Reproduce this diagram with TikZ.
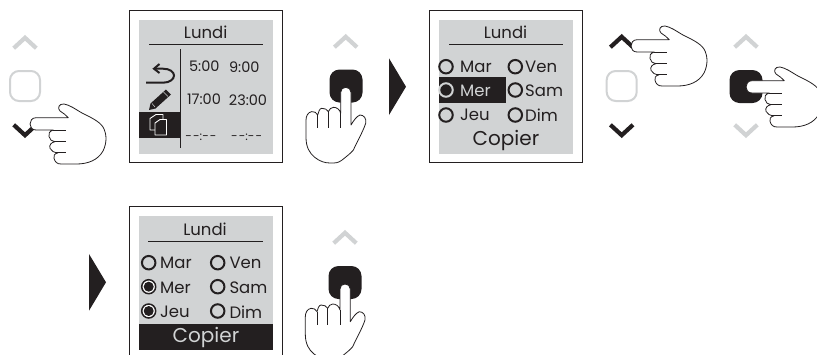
\documentclass[tikz,border=0pt]{standalone}
\usepackage{fontspec}
\setmainfont{Poppins}
\definecolor{ink}{HTML}{231F20}
\definecolor{pale}{HTML}{D1D3D4}
\tikzset{
  x=1pt,y=-1pt,
  framebox/.style={draw=ink,line width=1pt,fill=white},
  panel/.style={fill=pale},
  rulel/.style={draw=ink,line width=1pt},
  chev/.style={line width=4.2pt,miter limit=10},
  btn/.style={line width=2pt,rounded corners=9pt},
  handline/.style={draw=ink,line width=.8pt,fill=white,line join=round},
  txt/.style={inner sep=0pt,text=ink,font=\fontsize{16.5}{17}\selectfont},
  day/.style={inner sep=0pt,text=ink,anchor=west,font=\fontsize{16.5}{17}\selectfont},
  time/.style={inner sep=0pt,text=ink,font=\fontsize{14.5}{15}\selectfont},
  dashes/.style={inner sep=0pt,text=ink,font=\fontsize{12}{13}\selectfont},
  big/.style={inner sep=0pt,text=ink,font=\fontsize{20}{21}\selectfont},
  radio/.style={draw=ink,line width=2pt,circle,minimum size=13.5pt,inner sep=0pt},
  radiosel/.style={draw=ink,line width=1.5pt,circle,minimum size=14pt,inner sep=0pt,fill=white,path picture={\fill[ink] (path picture bounding box.center) circle[radius=5pt];}},
  pics/chevup/.style={code={\draw[chev,#1] (-11.3,5.2) -- (0,-5.2) -- (11.3,5.2);}},
  pics/chevdown/.style={code={\draw[chev,#1] (-11.3,-5.2) -- (0,5.2) -- (11.3,-5.2);}},
  pics/handleft/.style={code={
    \path[handline] (38.3,-6.3) -- (6,-6.3) .. controls (2,-6.3) and (0,-3) .. (0,0) .. controls (0,3) and (2,6) .. (6,6) -- (23.3,6) .. controls (19.5,7) and (18,10) .. (19,12.5) .. controls (19.5,15.5) and (22,17.7) .. (25,17.7) .. controls (21,18.5) and (19,21) .. (20,24.3) .. controls (21,27) and (24,28.7) .. (28.3,28.7) .. controls (24.5,29.5) and (23,32) .. (24,34.3) .. controls (25,38) and (27,40) .. (31,40) -- (46.7,40) .. controls (58,40) and (68,36) .. (73,27) .. controls (77,19) and (77,10) .. (73,3) .. controls (69,-3) and (60,-7) .. (52,-11) .. controls (45,-15) and (40,-19) .. (34,-20) .. controls (29,-20.5) and (27,-16) .. (30,-13) .. controls (33,-11) and (36,-9) .. (38.3,-6.3) -- cycle;
    \draw[handline,fill=none] (23.3,6) -- (35.5,6) (25,17.7) -- (35.5,17.7) (28.3,28.7) -- (35.5,28.7);
  }},
  pics/handup/.style={code={
    \path[handline] (5.3,37.7) -- (5.3,5) .. controls (5.3,2) and (3,0) .. (0,0) .. controls (-3,0) and (-5,2) .. (-5,5) -- (-5,26) .. controls (-6,22) and (-9,20) .. (-12.3,20) .. controls (-14.5,20) and (-16.5,22) .. (-17.3,24.3) .. controls (-18.5,22) and (-21,21) .. (-24,21) .. controls (-26,21) and (-27.5,25) .. (-28,27.7) .. controls (-29,25) and (-31.5,24.3) .. (-34,24.3) .. controls (-38,25) and (-39.7,29) .. (-39.7,33) -- (-39.7,50) .. controls (-39.7,60) and (-36,66) .. (-31,70) .. controls (-26,74) and (-21,75.7) .. (-15.7,75.7) .. controls (-11,75.7) and (-8,76) .. (-4,73) .. controls (1,69) and (5,66) .. (7.7,62.7) .. controls (11,55) and (17,45) .. (20,36) .. controls (21,31) and (18,27.7) .. (14.3,27.7) .. controls (11,29) and (8,33) .. (5.3,37.7) -- cycle;
    \draw[handline,fill=none] (-28,27.7) -- (-28,41) (-17.3,24.3) -- (-17.3,41) (-5,26) -- (-5,41);
  }},
}
\begin{document}
\begin{tikzpicture}
\useasboundingbox (0,0) rectangle (817,354);
\clip (0,0) rectangle (817,354);
% column 1 buttons
\pic at (25,43) {chevup=pale};
\draw[btn,draw=pale] (10,71) rectangle (40,101);
\pic at (25,130) {chevdown=ink};
\pic at (30,124) {handleft};
% screen 1
\draw[framebox] (129.5,10) rectangle (282.7,162.7);
\fill[panel] (139,20) rectangle (272.7,154);
\node[txt] (t1) at (205.7,32) {Lundi};
\draw[rulel] (149,44.3) -- (262.7,44.3);
\fill[ink] (139,112) rectangle (180.3,137.7);
\draw[rulel] (180.3,49.3) -- (180.3,148.3);
\node[time] (a1) at (204.3,66.7) {5:00};
\node[time] (a2) at (244.3,66.7) {9:00};
\node[time] (a3) at (204,99.7) {17:00};
\node[time] (a4) at (248,99.7) {23:00};
\node[dashes] (a5) at (201,137.5) {-\kern1pt-:-\kern1pt-};
\node[dashes] (a6) at (246.7,137.5) {-\kern1pt-:-\kern1pt-};
% back arrow
\draw[ink,line width=2pt] (146,82.7) -- (163,82.7) .. controls (170,82.7) and (174,79) .. (174,75.5) .. controls (174,72) and (170,68.7) .. (163,68.7) -- (155,68.7);
\draw[ink,line width=2pt] (159.5,64) -- (154,68.7) -- (159.5,73);
% pencil
\fill[ink] (149,110) -- (150.5,103.5) -- (166,89.5) -- (171,94.5) -- (155.5,108.5) -- cycle;
\draw[pale,line width=.5pt] (152,103.5) -- (155,107) (163.5,92) -- (168,96.5);
% copy icon
\draw[white,line width=.9pt,line join=round] (155,130) -- (150,130) -- (150,118.5) -- (156,114.5) -- (163,114.5) -- (163,119.5);
\draw[white,line width=.9pt,line join=round,fill=ink] (155,135) -- (155,123) -- (160,119.5) -- (166.5,119.5) -- (166.5,135) -- cycle;
% column 2
\pic at (345.7,42) {chevup=pale};
\fill[ink,rounded corners=10pt] (329.5,69.5) rectangle (362.5,102.5);
\pic at (345.7,87.3) {handup};
\fill[ink] (389,58.3) -- (406,86.7) -- (389,115) -- cycle;
% screen 2
\draw[framebox] (429,10) rectangle (582.3,162.7);
\fill[panel] (439,20) rectangle (572.7,154);
\node[txt] (t2) at (505.5,32) {Lundi};
\draw[rulel] (449,44.3) -- (562.7,44.3);
\fill[ink] (439,77.3) rectangle (506,102.7);
\node[radio] (r1) at (446,66.7) {};
\node[radio,draw=pale] (r2) at (446,90) {};
\node[radio] (r3) at (446,115) {};
\node[radio] (r4) at (515.3,66.7) {};
\node[radio] (r5) at (515.3,90) {};
\node[radio] (r6) at (515.3,115) {};
\node[day] (d1) at (460,67) {Mar};
\node[day,text=pale] (d2) at (460,91) {Mer};
\node[day] (d3) at (460,115) {Jeu};
\node[day] (d4) at (525,67) {Ven};
\node[day] (d5) at (525,91) {Sam};
\node[day] (d6) at (525,115) {Dim};
\node[big] (c2) at (506,140) {Copier};
% column 3
\pic at (621.7,42) {chevup=ink};
\draw[btn,draw=pale] (606.7,71) rectangle (636.7,101);
\pic at (621.7,130) {chevdown=ink};
\pic at (631,46) {handleft};
% column 4
\pic at (746,42) {chevup=pale};
\pic at (746,130) {chevdown=pale};
\fill[ink,rounded corners=10pt] (729.5,70) rectangle (762.5,103);
\pic at (746,87) {handleft};
% second row
\fill[ink] (89,254) -- (106,282.3) -- (89,310.7) -- cycle;
\draw[framebox] (129.3,206.7) rectangle (282,360);
\fill[panel] (139,216) rectangle (273,350);
\node[txt] (t3) at (205,229) {Lundi};
\draw[rulel] (148.3,241.3) -- (262.7,241.3);
\node[radio] (s1) at (148.7,262.7) {};
\node[radiosel] (s2) at (148.7,286.7) {};
\node[radiosel] (s3) at (148.7,311) {};
\node[radio] (s4) at (217.7,262.7) {};
\node[radio] (s5) at (217.7,286.7) {};
\node[radio] (s6) at (217.7,311) {};
\node[day] (e1) at (160,263) {Mar};
\node[day] (e2) at (160,287.5) {Mer};
\node[day] (e3) at (160,312) {Jeu};
\node[day] (e4) at (229.3,263) {Ven};
\node[day] (e5) at (229.3,287.5) {Sam};
\node[day] (e6) at (229.3,312) {Dim};
\fill[ink] (139,324) rectangle (273,350);
\node[big,text=pale] (c3) at (206,337) {Copier};
\pic at (345,238) {chevup=pale};
\fill[ink,rounded corners=10pt] (328.5,266) rectangle (361.5,299);
\pic at (345,284) {handup};
\end{tikzpicture}
\end{document}
